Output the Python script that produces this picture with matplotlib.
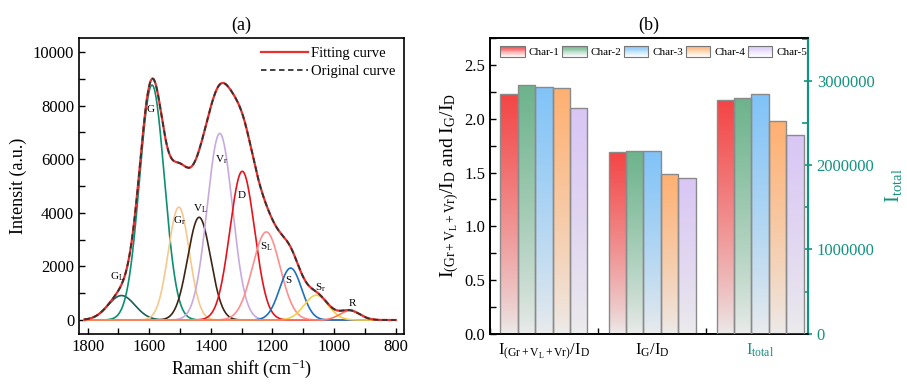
import numpy as np
import matplotlib.pyplot as plt
from matplotlib.patches import Rectangle
from matplotlib.legend_handler import HandlerBase
from matplotlib.colors import to_rgb
from matplotlib.ticker import MultipleLocator

plt.rcParams['font.family'] = ['Liberation Serif', 'DejaVu Serif']
plt.rcParams['mathtext.fontset'] = 'custom'
plt.rcParams['mathtext.rm'] = 'Liberation Serif'
plt.rcParams['mathtext.it'] = 'Liberation Serif:italic'
plt.rcParams['axes.linewidth'] = 1.2

# ---- (a) peak fitting of the Raman spectrum ----
peak_names = [r'G$_\mathrm{L}$', 'G', r'G$_\mathrm{r}$', r'V$_\mathrm{L}$', r'V$_\mathrm{r}$',
              'D', r'S$_\mathrm{L}$', 'S', r'S$_\mathrm{r}$', 'R']
peak_center = [1690, 1591, 1504, 1438, 1371, 1298, 1220, 1141, 1058, 949]
peak_height = [913, 8765, 4211, 3832, 6959, 5548, 3286, 1938, 924, 351]
peak_sigma = [43.7, 40.0, 34.1, 37.2, 41.1, 40.1, 44.6, 35.6, 38.8, 32.6]
peak_color = ['#1d5e58', '#0b8f6e', '#f6c88c', '#3b2616', '#c9aadf',
              '#e3141c', '#ff8e8e', '#1f6fbf', '#f7d044', '#ff7a5c']
label_x = [1705, 1597, 1502, 1433, 1365, 1300, 1219, 1149, 1043, 941]
label_y = [1616, 7860, 3710, 4140, 5990, 4660, 2740, 1490, 1220, 600]

# ---- (b) intensity ratios ----
groups = [r'I$_{\mathrm{(Gr+V_L+Vr)}}$/I$_\mathrm{D}$', r'I$_\mathrm{G}$/I$_\mathrm{D}$', r'I$_\mathrm{total}$']
chars = ['Char-1', 'Char-2', 'Char-3', 'Char-4', 'Char-5']
ratio_gvd = [2.23, 2.315, 2.30, 2.285, 2.10]
ratio_gd = [1.69, 1.705, 1.70, 1.49, 1.445]
i_total = [2772000, 2803000, 2850000, 2526000, 2356000]
bar_color = ['#f44545', '#6cb38b', '#80c3f8', '#ffb071', '#d9c6f5']
teal = '#12937f'

fig = plt.figure(figsize=(9.07, 3.84), dpi=100)
ax = fig.add_axes([0.0871, 0.131, 0.3583, 0.770])

x = np.linspace(1810, 800, 1200)
comps = []
for c, h, s in zip(peak_center, peak_height, peak_sigma):
    comps.append(h * np.exp(-(x - c) ** 2 / (2 * s ** 2)))
total = np.sum(comps, axis=0)

for yv, col in zip(comps, peak_color):
    ax.plot(x, yv, color=col, lw=1.2)
ax.plot(x, total, color='#e8302e', lw=1.6, label='Fitting curve')
ax.plot(x, total, color='#333333', lw=1.3, ls=(0, (3, 2)), label='Original curve')
for nm, lx, ly in zip(peak_names, label_x, label_y):
    ax.text(lx, ly, nm, fontsize=8, ha='center', va='center')

ax.set_xlim(1828, 773)
ax.set_ylim(-510, 10520)
ax.xaxis.set_major_locator(MultipleLocator(200))
ax.xaxis.set_minor_locator(MultipleLocator(100))
ax.yaxis.set_major_locator(MultipleLocator(2000))
ax.yaxis.set_minor_locator(MultipleLocator(1000))
ax.tick_params(which='both', direction='in', labelsize=12, width=1, length=4)
ax.set_xlabel('Raman shift (cm$^{-1}$)', fontsize=13, labelpad=2)
ax.set_ylabel('Intensit (a.u.)', fontsize=13, labelpad=4)
ax.set_title('(a)', fontsize=13, pad=6)
ax.legend(loc='upper right', fontsize=10.5, frameon=False, handlelength=3.2,
          handletextpad=0.2, borderaxespad=0.2, labelspacing=0.35)

# ---- (b) ----
bx = fig.add_axes([0.5402, 0.131, 0.3503, 0.770])
bx2 = bx.twinx()
width = 0.161
offsets = (np.arange(5) - 2) * width
bottom_rgb = np.array(to_rgb('#ececec'))


def gradient_bars(axis, xs, hs, col):
    bars = axis.bar(xs, hs, width, facecolor='none', edgecolor='#8a8a8a', lw=1, zorder=3)
    top = np.array(to_rgb(col))
    t = np.linspace(0, 1, 256) ** 0.8
    grad = (bottom_rgb[None, :] * (1 - t[:, None]) + top[None, :] * t[:, None])[:, None, :]
    for b in bars:
        x0, w, h = b.get_x(), b.get_width(), b.get_height()
        im = axis.imshow(grad, extent=[x0, x0 + w, 0, h], origin='lower',
                         aspect='auto', zorder=2, interpolation='bilinear')
        im.set_clip_path(b)
    return bars


for i in range(5):
    gradient_bars(bx, [1 + offsets[i], 2 + offsets[i]], [ratio_gvd[i], ratio_gd[i]], bar_color[i])
    gradient_bars(bx2, [3 + offsets[i]], [i_total[i]], bar_color[i])

bx.set_xlim(0.5, 3.44)
bx.set_ylim(0, 2.753)
bx2.set_ylim(0, 3.51e6)
bx.set_xticks([1, 2, 3])
bx.set_xticklabels(groups, fontsize=12)
bx.get_xticklabels()[2].set_color(teal)
bx.xaxis.set_minor_locator(MultipleLocator(1.0, offset=0.5))
bx.yaxis.set_major_locator(MultipleLocator(0.5))
bx.yaxis.set_minor_locator(MultipleLocator(0.25))
bx.tick_params(which='both', direction='in', labelsize=12, width=1, length=4)
bx.tick_params(axis='x', pad=6)
bx.set_ylabel(r'I$_{\mathrm{(Gr+V_L+Vr)}}$/I$_\mathrm{D}$ and I$_\mathrm{G}$/I$_\mathrm{D}$',
              fontsize=14, labelpad=2)
bx.set_title('(b)', fontsize=13, pad=6)

bx2.yaxis.set_major_locator(MultipleLocator(1e6))
bx2.yaxis.set_minor_locator(MultipleLocator(5e5))
bx2.yaxis.set_major_formatter(plt.FuncFormatter(lambda v, p: '%d' % v))
bx2.tick_params(which='both', direction='inout', colors=teal, labelsize=12, width=1.2, length=6)
bx2.tick_params(which='minor', direction='in', length=4)
bx2.spines['right'].set_color(teal)
bx2.spines['right'].set_linewidth(1.6)
bx2.set_ylabel(r'I$_\mathrm{total}$', color=teal, fontsize=15, labelpad=6)


class GradHandler(HandlerBase):
    # legend key drawn as a vertical colour-to-white strip stack
    def create_artists(self, legend, orig, xd, yd, w, h, fontsize, trans):
        top = np.array(to_rgb(orig.get_facecolor()))
        arts = []
        n = 12
        for k in range(n):
            t = (k + 0.5) / n
            c = np.array([1, 1, 1]) * (1 - t) + top * t
            arts.append(Rectangle((-xd, -yd + k * h / n), w, h / n,
                                  facecolor=c, edgecolor='none', transform=trans))
        arts.append(Rectangle((-xd, -yd), w, h, facecolor='none',
                              edgecolor='#777777', lw=0.8, transform=trans))
        return arts


handles = [Rectangle((0, 0), 1, 1, facecolor=c) for c in bar_color]
bx.legend(handles, chars, loc='upper center', ncol=5, fontsize=8, frameon=False,
          handlelength=2.2, handleheight=1.2, handletextpad=0.35, columnspacing=0.25,
          borderaxespad=0.4, borderpad=0.3, bbox_to_anchor=(0.515, 1.0),
          handler_map={Rectangle: GradHandler()})

fig.savefig('out.png', dpi=100)
